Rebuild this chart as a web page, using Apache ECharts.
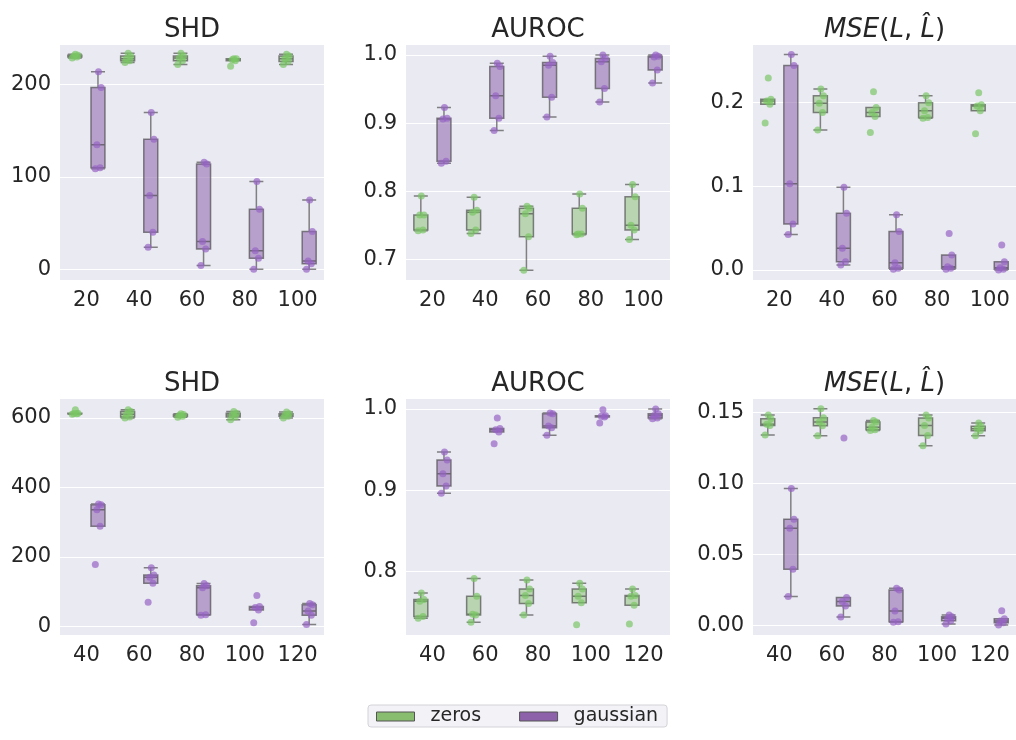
<!DOCTYPE html>
<html>
<head>
<meta charset="utf-8">
<script src="https://cdn.jsdelivr.net/npm/echarts@6/dist/echarts.min.js"></script>
<style>
  html, body { margin: 0; padding: 0; background: #fff; }
  #chart { width: 1016px; height: 740px; }
</style>
</head>
<body>
<div id="chart"></div>
<script>
// category labels
const catsTop = ['20', '40', '60', '80', '100'];
const catsBottom = ['40', '60', '80', '100', '120'];

// five runs per setting
const shdTopZeros = [[229, 230, 231, 232, 233], [224, 226, 228, 231, 234], [222, 226, 229, 231, 234], [220, 226, 227, 228, 228], [222, 225, 228, 231, 233]];
const shdTopGauss = [[109, 110, 135, 197, 214], [24, 40, 80, 141, 170], [4, 22, 30, 114, 116], [0, 12, 20, 65, 95], [0, 6, 9, 41, 75]];

const aurocTopZeros = [[0.742, 0.743, 0.765, 0.765, 0.793], [0.738, 0.743, 0.769, 0.772, 0.791], [0.684, 0.733, 0.767, 0.775, 0.778], [0.736, 0.737, 0.737, 0.775, 0.796], [0.729, 0.743, 0.750, 0.792, 0.810]];
const aurocTopGauss = [[0.841, 0.844, 0.906, 0.907, 0.923], [0.889, 0.907, 0.940, 0.983, 0.988], [0.909, 0.938, 0.985, 0.989, 0.998], [0.931, 0.951, 0.990, 0.995, 1.000], [0.959, 0.978, 0.997, 0.998, 1.000]];

const mseTopZeros = [[0.1753, 0.1976, 0.2016, 0.2036, 0.229], [0.167, 0.188, 0.199, 0.208, 0.216], [0.164, 0.183, 0.188, 0.194, 0.2125], [0.181, 0.182, 0.190, 0.1996, 0.208], [0.1626, 0.190, 0.1956, 0.197, 0.2115]];
const mseTopGauss = [[0.0425, 0.055, 0.103, 0.244, 0.257], [0.006, 0.0099, 0.026, 0.0676, 0.0986], [0.0008, 0.002, 0.0087, 0.046, 0.066], [0.001, 0.002, 0.004, 0.018, 0.0437], [0, 0.0008, 0.0028, 0.0099, 0.0298]];

const shdBottomZeros = [[611, 612, 613, 614, 624], [600, 603, 611, 619, 624], [602, 605, 608, 610, 612], [595, 603, 609, 614, 619], [600, 605, 609, 612, 617]];
const shdBottomGauss = [[178, 288, 336, 350, 352], [69, 124, 141, 148, 169], [32, 33, 111, 117, 123], [10, 47, 54, 57, 89], [5, 32, 44, 62, 66]];

const aurocBottomZeros = [[0.742, 0.744, 0.763, 0.765, 0.773], [0.737, 0.746, 0.747, 0.769, 0.791], [0.746, 0.760, 0.770, 0.778, 0.789], [0.734, 0.761, 0.769, 0.778, 0.785], [0.735, 0.758, 0.769, 0.770, 0.778]];
const aurocBottomGauss = [[0.896, 0.905, 0.920, 0.937, 0.947], [0.957, 0.9716, 0.9745, 0.976, 0.989], [0.9675, 0.977, 0.979, 0.994, 0.995], [0.9827, 0.990, 0.991, 0.9918, 0.999], [0.988, 0.989, 0.992, 0.994, 1.0]];

const mseBottomZeros = [[0.1338, 0.1406, 0.1415, 0.1453, 0.148], [0.1333, 0.1404, 0.143, 0.146, 0.1523], [0.137, 0.1376, 0.1394, 0.143, 0.1441], [0.1263, 0.1336, 0.1406, 0.1458, 0.148], [0.1333, 0.1369, 0.1383, 0.140, 0.1423]];
const mseBottomGauss = [[0.0202, 0.0394, 0.0683, 0.0746, 0.0962], [0.0059, 0.0136, 0.0167, 0.0195, 0.1317], [0.0021, 0.0026, 0.0101, 0.0249, 0.026], [0.001, 0.0033, 0.0049, 0.0061, 0.0073], [0.0002, 0.0019, 0.0031, 0.0047, 0.0103]];

const FONT = 'DejaVu Sans';
const TXT = '#262626';
const BG = '#EAEAF2';
const GREEN_PT = 'rgba(122,198,100,0.85)';
const PURPLE_PT = 'rgba(150,98,196,0.85)';
const GREEN_BOX = 'rgba(136,189,111,0.5)';
const PURPLE_BOX = 'rgba(141,98,171,0.55)';
// small horizontal spread of the dots (like a strip plot)
const JITTER = [-0.05, 0.04, -0.02, 0.06, 0.01];

const panels = [
  { title: 'SHD', cats: catsTop, zeros: shdTopZeros, gauss: shdTopGauss, min: -11.6, max: 243, step: 100, dec: 0, left: 60, top: 45, width: 264, height: 235 },
  { title: 'AUROC', cats: catsTop, zeros: aurocTopZeros, gauss: aurocTopGauss, min: 0.6696, max: 1.0147, step: 0.1, dec: 1, left: 406, top: 45, width: 264, height: 235 },
  { title: 'mse', cats: catsTop, zeros: mseTopZeros, gauss: mseTopGauss, min: -0.0119, max: 0.2684, step: 0.1, dec: 1, left: 753, top: 45, width: 263, height: 235 },
  { title: 'SHD', cats: catsBottom, zeros: shdBottomZeros, gauss: shdBottomGauss, min: -25, max: 654.8, step: 200, dec: 0, left: 60, top: 399, width: 264, height: 236 },
  { title: 'AUROC', cats: catsBottom, zeros: aurocBottomZeros, gauss: aurocBottomGauss, min: 0.7213, max: 1.0123, step: 0.1, dec: 1, left: 406, top: 399, width: 264, height: 236 },
  { title: 'mse', cats: catsBottom, zeros: mseBottomZeros, gauss: mseBottomGauss, min: -0.0068, max: 0.1592, step: 0.05, dec: 2, left: 753, top: 399, width: 263, height: 236 }
];

// numpy-style percentile + 1.5 IQR whiskers
function quantile(sorted, p) {
  const pos = (sorted.length - 1) * p;
  const lo = Math.floor(pos), hi = Math.ceil(pos);
  return sorted[lo] + (sorted[hi] - sorted[lo]) * (pos - lo);
}
function boxStats(vals) {
  const s = vals.slice().sort((a, b) => a - b);
  const q1 = quantile(s, 0.25), med = quantile(s, 0.5), q3 = quantile(s, 0.75);
  const iqr = q3 - q1;
  const inside = s.filter(v => v >= q1 - 1.5 * iqr && v <= q3 + 1.5 * iqr);
  return [inside[0], q1, med, q3, inside[inside.length - 1]];
}

// offset of the two boxes inside a band, same rule echarts uses for boxplot
function dodge(width) {
  const band = width / 5;
  const avail = band * 0.8 - 2;
  const gap = avail / 2 * 0.3;
  const bw = (avail - gap) / 2;
  return (avail / 2 - bw / 2) / band;
}

const grid = [], xAxis = [], yAxis = [], series = [], title = [];

panels.forEach((p, i) => {
  grid.push({ left: p.left, top: p.top, width: p.width, height: p.height, show: true, backgroundColor: BG, borderWidth: 0 });

  const isMse = p.title === 'mse';
  title.push({
    text: isMse ? '{i|MSE}({i|L}, {i|L\u0302})' : p.title,
    left: p.left + p.width / 2,
    top: p.top - 28,
    textAlign: 'center',
    padding: 0,
    textStyle: {
      fontFamily: FONT, fontSize: 26, fontWeight: 'normal', color: TXT,
      rich: { i: { fontFamily: FONT, fontSize: 26, fontStyle: 'italic', color: TXT } }
    }
  });

  xAxis.push({
    type: 'category', gridIndex: i, data: p.cats,
    axisLine: { show: false }, axisTick: { show: false }, splitLine: { show: false },
    axisLabel: { fontFamily: FONT, fontSize: 21, color: TXT, margin: 10 }
  });
  xAxis.push({ type: 'value', gridIndex: i, min: -0.5, max: 4.5, show: false });

  yAxis.push({
    type: 'value', gridIndex: i, min: p.min, max: p.max,
    minInterval: p.step, maxInterval: p.step, splitNumber: 3,
    axisLine: { show: false }, axisTick: { show: false },
    splitLine: { show: true, showMinLine: false, showMaxLine: false, lineStyle: { color: '#fff', width: 1.2 } },
    axisLabel: {
      fontFamily: FONT, fontSize: 21, color: TXT, margin: 9,
      showMinLabel: false, showMaxLabel: false,
      formatter: v => v.toFixed(p.dec)
    }
  });

  const off = dodge(p.width);
  [['zeros', p.zeros, GREEN_BOX, GREEN_PT, -off], ['gaussian', p.gauss, PURPLE_BOX, PURPLE_PT, off]].forEach(([name, runs, boxCol, ptCol, dx]) => {
    series.push({
      type: 'boxplot', name: name, xAxisIndex: 2 * i, yAxisIndex: i,
      boxWidth: [14, 14],
      data: runs.map(boxStats),
      itemStyle: { color: boxCol, borderColor: 'rgba(70,70,70,0.65)', borderWidth: 1.5 },
      emphasis: { disabled: true }, silent: true
    });
    const pts = [];
    runs.forEach((vals, c) => vals.forEach((v, k) => pts.push([c + dx + JITTER[k], v])));
    series.push({
      type: 'scatter', name: name, xAxisIndex: 2 * i + 1, yAxisIndex: i,
      symbolSize: 7, data: pts, z: 5,
      itemStyle: { color: ptCol },
      emphasis: { disabled: true }, silent: true
    });
  });
});

const chart = echarts.init(document.getElementById('chart'), null, { renderer: 'canvas' });
chart.setOption({
  animation: false,
  backgroundColor: '#fff',
  title: title,
  grid: grid,
  xAxis: xAxis,
  yAxis: yAxis,
  legend: {
    left: 368, top: 705,
    orient: 'horizontal',
    itemWidth: 38, itemHeight: 9, itemGap: 38,
    padding: [2, 9, 1, 8],
    backgroundColor: 'rgba(234,234,242,0.6)',
    borderColor: '#d3d3d8', borderWidth: 1, borderRadius: 3,
    selectedMode: false,
    textStyle: { fontFamily: FONT, fontSize: 19, color: TXT, padding: [0, 0, 0, 11] },
    data: [
      { name: 'zeros', icon: 'rect', itemStyle: { color: '#88bd6f', borderColor: '#555', borderWidth: 1 } },
      { name: 'gaussian', icon: 'rect', itemStyle: { color: '#8d62ab', borderColor: '#555', borderWidth: 1 } }
    ]
  },
  series: series
});
</script>
</body>
</html>
